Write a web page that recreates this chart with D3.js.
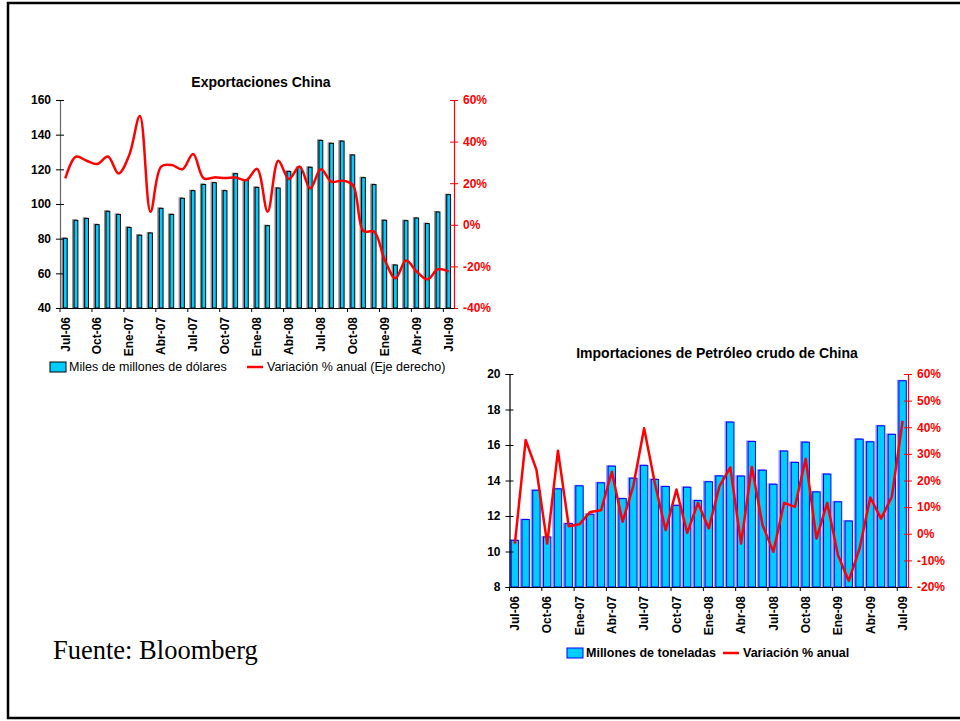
<!DOCTYPE html>
<html>
<head>
<meta charset="utf-8">
<script src="https://cdn.jsdelivr.net/npm/d3@7"></script>
<style>
body { margin: 0; background: #fff; }
svg { display: block; }
text { font-family: Arial, "Liberation Sans", sans-serif; }
</style>
</head>
<body>
<svg id="chart" width="960" height="721"></svg>
<script>
var months = ["Jul-06","Ago-06","Sep-06","Oct-06","Nov-06","Dic-06",
	"Ene-07","Feb-07","Mar-07","Abr-07","May-07","Jun-07","Jul-07","Ago-07","Sep-07","Oct-07","Nov-07","Dic-07",
	"Ene-08","Feb-08","Mar-08","Abr-08","May-08","Jun-08","Jul-08","Ago-08","Sep-08","Oct-08","Nov-08","Dic-08",
	"Ene-09","Feb-09","Mar-09","Abr-09","May-09","Jun-09","Jul-09"];
var monthTicks = ["Jul-06","Oct-06","Ene-07","Abr-07","Jul-07","Oct-07","Ene-08","Abr-08","Jul-08","Oct-08","Ene-09","Abr-09","Jul-09"];

// Exportaciones China: miles de millones de dolares + variacion % anual
var exportValues = [80.2, 90.6, 91.7, 88.1, 95.8, 94.0, 86.5, 82.0, 83.3, 97.5, 94.0, 103.3, 107.7, 111.3, 112.3, 107.7, 117.5, 113.8,
	109.6, 87.5, 109.2, 118.8, 121.2, 121.2, 136.7, 135.0, 136.3, 128.3, 115.2, 111.2, 90.6, 64.8, 90.4, 91.9, 88.7, 95.4, 105.4];
var exportGrowth = [22.3, 32.8, 30.8, 29.2, 32.8, 24.7, 33.5, 52.3, 6.3, 28, 28.7, 26.7, 34, 22.3, 22.8, 22.5, 22.7, 21.5,
	26.9, 6.3, 30.8, 22, 28, 17.5, 26.7, 20.7, 21.2, 19.1, -3, -3.3, -16.9, -25.7, -17.2, -22.5, -26.2, -21.4, -22.5];
var exportTicks = [40, 60, 80, 100, 120, 140, 160];
var exportGrowthTicks = [-40, -20, 0, 20, 40, 60];

// Importaciones de petroleo crudo: millones de toneladas + variacion % anual
var importValues = [10.63, 11.8, 13.45, 10.82, 13.53, 11.57, 13.7, 12.1, 13.87, 14.81, 12.98, 14.13, 14.85, 14.06, 13.66, 12.6, 13.62, 12.87,
	13.93, 14.26, 17.29, 14.25, 16.2, 14.58, 13.79, 15.66, 15.02, 16.16, 13.36, 14.36, 12.8, 11.72, 16.33, 16.18, 17.08, 16.6, 19.62];
var importGrowth = [-3.7, 35.2, 24.1, -3.7, 31.2, 2.8, 3.6, 8.2, 8.8, 23.3, 4.5, 18, 39.6, 18.9, 1.3, 16.6, 0.3, 11.6,
	2, 17.9, 24.9, -3.7, 25.1, 3.2, -6.8, 11.6, 10.1, 28.2, -1.8, 11.6, -8.1, -17.7, -5.6, 13.6, 5.7, 13.9, 42.4];
var importTicks = [8, 10, 12, 14, 16, 18, 20];
var importGrowthTicks = [-20, -10, 0, 10, 20, 30, 40, 50, 60];

var svg = d3.select("#chart");

// page frame
svg.append("rect")
	.attr("x", 8).attr("y", 3)
	.attr("width", 960).attr("height", 715)
	.attr("fill", "none").attr("stroke", "#000").attr("stroke-width", 2.5);

function drawPanel(o) {
	var g = svg.append("g");

	var x = d3.scaleBand()
		.domain(months)
		.range([o.left, o.right])
		.paddingInner(o.pad)
		.paddingOuter(o.pad / 2);
	var step = x.step(), bw = x.bandwidth();

	var y = d3.scaleLinear().domain(d3.extent(o.ticks)).range([o.bottom, o.top]);
	var y2 = d3.scaleLinear().domain(d3.extent(o.growthTicks)).range([o.bottom, o.top]);

	// title
	g.append("text")
		.attr("x", o.titleX).attr("y", o.titleY)
		.attr("text-anchor", "middle")
		.attr("font-size", 14).attr("font-weight", "bold")
		.text(o.title);

	// bars (shadow first)
	g.selectAll("rect.shadow")
		.data(o.values)
		.enter().append("rect")
			.attr("class", "shadow")
			.attr("x", function(d, i) { return x(months[i]) - 1.5; })
			.attr("y", function(d) { return y(d) - 1; })
			.attr("width", bw)
			.attr("height", function(d) { return o.bottom - y(d) + 1; })
			.attr("fill", o.shadow);

	g.selectAll("rect.bar")
		.data(o.values)
		.enter().append("rect")
			.attr("class", "bar")
			.attr("x", function(d, i) { return x(months[i]) + 0.5; })
			.attr("y", function(d) { return y(d); })
			.attr("width", bw - 1)
			.attr("height", function(d) { return o.bottom - y(d); })
			.attr("fill", "#00ccff")
			.attr("stroke", o.barStroke)
			.attr("stroke-width", 1);

	// left axis
	var ax = g.append("g")
		.attr("transform", "translate(" + o.left + ",0)")
		.call(d3.axisLeft(y).tickValues(o.ticks).tickSize(4).tickPadding(5));
	ax.select(".domain").attr("stroke", o.leftAxisColor).attr("stroke-width", 1.2);
	ax.selectAll(".tick line").attr("x1", 4).attr("x2", -4).attr("stroke", "#000");
	ax.selectAll("text").attr("font-size", 12).attr("font-weight", "bold").attr("fill", "#000");

	// right axis
	var ax2 = g.append("g")
		.attr("transform", "translate(" + o.right + ",0)")
		.call(d3.axisRight(y2).tickValues(o.growthTicks).tickSize(4).tickPadding(5)
			.tickFormat(function(d) { return d + "%"; }));
	ax2.select(".domain").attr("stroke", "#ff0000").attr("stroke-width", 1.2);
	ax2.selectAll(".tick line").attr("x1", -4).attr("x2", 4).attr("stroke", "#ff0000");
	ax2.selectAll("text").attr("font-size", 12).attr("font-weight", "bold").attr("fill", "#ff0000");

	// bottom axis
	var bx = g.append("g")
		.attr("transform", "translate(0," + o.bottom + ")")
		.call(d3.axisBottom(x).tickValues(monthTicks).tickSize(0).tickSizeOuter(0));
	bx.select(".domain").attr("stroke", "#000").attr("stroke-width", 1.2);
	bx.selectAll("text")
		.attr("transform", "rotate(-90)")
		.attr("text-anchor", "end")
		.attr("x", -9).attr("y", 0).attr("dy", "0.35em")
		.attr("font-size", 12).attr("font-weight", "bold").attr("fill", "#000");
	g.selectAll("line.xtick")
		.data(monthTicks)
		.enter().append("line")
			.attr("class", "xtick")
			.attr("x1", function(d) { return x(d) + bw / 2 - step / 2; })
			.attr("x2", function(d) { return x(d) + bw / 2 - step / 2; })
			.attr("y1", o.bottom).attr("y2", o.bottom + 4)
			.attr("stroke", "#000");

	// growth line
	var line = d3.line()
		.x(function(d, i) { return x(months[i]) + bw / 2; })
		.y(function(d) { return y2(d); })
		.curve(o.curve);
	g.append("path")
		.datum(o.growth)
		.attr("d", line)
		.attr("fill", "none")
		.attr("stroke", "#ff0000")
		.attr("stroke-width", 2.5)
		.attr("stroke-linejoin", "round");

	// legend
	var lg = g.append("g");
	lg.append("rect")
		.attr("x", o.legendX).attr("y", o.legendY - 5)
		.attr("width", 16).attr("height", 10)
		.attr("fill", "#00ccff").attr("stroke", o.barStroke);
	lg.append("text")
		.attr("x", o.legendX + 19).attr("y", o.legendY).attr("dy", "0.35em")
		.attr("font-size", 12.5).attr("font-weight", o.legendWeight)
		.text(o.legendBars);
	lg.append("line")
		.attr("x1", o.legendX2).attr("x2", o.legendX2 + 16)
		.attr("y1", o.legendY).attr("y2", o.legendY)
		.attr("stroke", "#ff0000").attr("stroke-width", 2.5);
	lg.append("text")
		.attr("x", o.legendX2 + 20).attr("y", o.legendY).attr("dy", "0.35em")
		.attr("font-size", 12.5).attr("font-weight", o.legendWeight)
		.text(o.legendLine);
}

drawPanel({
	title: "Exportaciones China", titleX: 261, titleY: 87,
	left: 60, right: 454, top: 100, bottom: 308, pad: 0.55,
	values: exportValues, growth: exportGrowth,
	ticks: exportTicks, growthTicks: exportGrowthTicks,
	barStroke: "#000", shadow: "#8c8c8c", leftAxisColor: "#666",
	curve: d3.curveCatmullRom.alpha(0.5),
	legendX: 50, legendX2: 247, legendY: 367, legendWeight: "normal",
	legendBars: "Miles de millones de dólares", legendLine: "Variación % anual (Eje derecho)"
});

drawPanel({
	title: "Importaciones de Petróleo crudo de China", titleX: 717, titleY: 358,
	left: 509.5, right: 908, top: 374, bottom: 587, pad: 0.22,
	values: importValues, growth: importGrowth,
	ticks: importTicks, growthTicks: importGrowthTicks,
	barStroke: "#0000ff", shadow: "#9999ff", leftAxisColor: "#000",
	curve: d3.curveLinear,
	legendX: 567, legendX2: 723, legendY: 653, legendWeight: "bold",
	legendBars: "Millones de toneladas", legendLine: "Variación % anual"
});

svg.append("text")
	.attr("x", 53).attr("y", 659)
	.style("font-family", "'Times New Roman', 'Liberation Serif', serif")
	.attr("font-size", 26.5)
	.text("Fuente: Bloomberg");
</script>
</body>
</html>
